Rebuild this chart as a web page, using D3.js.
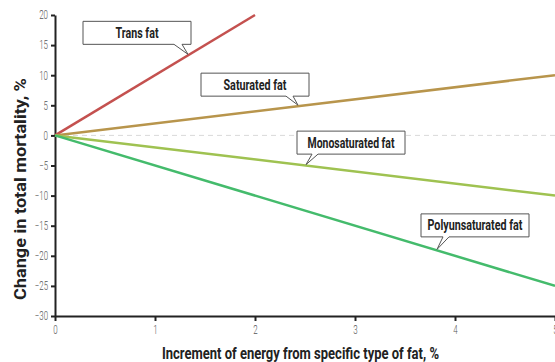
<!DOCTYPE html>
<html><head><meta charset="utf-8">
<script src="https://cdn.jsdelivr.net/npm/d3@7"></script>
<style>
body{margin:0;background:#fff;}
svg{display:block;}
</style></head>
<body>
<svg id="chart" width="555" height="362"></svg>
<script>
// Data
const seriesNames = ["Trans  fat", "Saturated fat", "Monosaturated fat", "Polyunsaturated fat"];
const seriesX0 = [0, 0, 0, 0];
const seriesY0 = [0, 0, 0, 0];
const seriesX1 = [2, 5, 5, 5];
const seriesY1 = [20, 10, -10, -25];
const seriesColors = ["#c4514f", "#b8954c", "#9fc251", "#44bb6c"];
const xTicks = [0, 1, 2, 3, 4, 5];
const yTicks = [20, 15, 10, 5, 0, -5, -10, -15, -20, -25, -30];
// annotation: x value where callout points to line
const calloutX = [1.33, 2.43, 2.51, 3.82];
const calloutBoxDX = [-105, -97, -9, -16];
const calloutBoxDY = [-33, -32, -33.5, -35.5];
const calloutTail = [[-14, -6], [-12, -5], [6, 12], [6, 12]];
const calloutTextW = [43, 63, 87, 95];

const svg = d3.select("#chart");
const x = d3.scaleLinear().domain([0, 5]).range([55, 555]);
const y = d3.scaleLinear().domain([-30, 20]).range([316, 15]);

const fontTick = "Roboto, 'DejaVu Sans Condensed', sans-serif";

// zero dashed line
svg.append("line").attr("x1", x(0)).attr("x2", x(5)).attr("y1", y(0)).attr("y2", y(0))
  .attr("stroke", "#d9d9d9").attr("stroke-width", 1).attr("stroke-dasharray", "5,4");

// axes
const yAxis = d3.axisLeft(y).tickValues(yTicks).tickFormat(d3.format("d")).tickSize(4).tickPadding(3).tickSizeOuter(0);
const gy = svg.append("g").attr("transform", `translate(${x(0)},0)`).call(yAxis);
const xAxis = d3.axisBottom(x).tickValues(xTicks).tickFormat(d3.format("d")).tickSize(5).tickPadding(4).tickSizeOuter(0);
const gx = svg.append("g").attr("transform", `translate(0,${y(-30)})`).call(xAxis);
[gy, gx].forEach(g => {
  g.select(".domain").attr("stroke", "#222").attr("stroke-width", 2);
  g.selectAll(".tick line").attr("stroke", "#222").attr("stroke-width", 2);
  g.selectAll(".tick text").attr("fill", "#555").style("font-family", fontTick).style("font-weight", "300").style("font-size", "12px")
    .attr("textLength", function() { return this.textContent.length * 4.4; })
    .attr("lengthAdjust", "spacingAndGlyphs");
});

// lines
const lineGen = d3.line().x(d => x(d[0])).y(d => y(d[1]));
seriesNames.forEach((n, i) => {
  svg.append("path").datum([[seriesX0[i], seriesY0[i]], [seriesX1[i], seriesY1[i]]])
    .attr("d", lineGen).attr("fill", "none").attr("stroke", seriesColors[i]).attr("stroke-width", 2.5);
});

// callouts
const bw = 108, bh = 23;
seriesNames.forEach((n, i) => {
  const slope = (seriesY1[i] - seriesY0[i]) / (seriesX1[i] - seriesX0[i]);
  const tx = x(calloutX[i]), ty = y(seriesY0[i] + slope * calloutX[i]) - 1;
  const bx = tx + calloutBoxDX[i], by = ty + calloutBoxDY[i];
  const b = by + bh;
  const [a1, a2] = calloutTail[i];
  const p = `M${bx},${by} H${bx + bw} V${b} H${tx + Math.max(a1, a2)} L${tx},${ty} L${tx + Math.min(a1, a2)},${b} H${bx} Z`;
  svg.append("path").attr("d", p).attr("fill", "#fff").attr("stroke", "#555").attr("stroke-width", 1);
  svg.append("text").attr("x", bx + bw / 2).attr("y", by + bh / 2 + 5).attr("text-anchor", "middle")
    .style("font-family", fontTick).style("font-weight", "bold").style("font-size", "14px").attr("fill", "#222")
    .attr("textLength", calloutTextW[i]).attr("lengthAdjust", "spacingAndGlyphs")
    .text(n);
});

// axis titles
svg.append("text").attr("x", 300.5).attr("y", 359).attr("text-anchor", "middle")
  .style("font-family", fontTick).style("font-weight", "bold").style("font-size", "17px").attr("fill", "#222")
  .attr("textLength", 277).attr("lengthAdjust", "spacingAndGlyphs")
  .text("Increment of energy from specific type of fat, %");
svg.append("text").attr("transform", "translate(26,189) rotate(-90)").attr("text-anchor", "middle")
  .style("font-family", fontTick).style("font-weight", "bold").style("font-size", "17px").attr("fill", "#222")
  .attr("textLength", 222).attr("lengthAdjust", "spacingAndGlyphs")
  .text("Change in total mortality, %");
</script>
</body></html>
